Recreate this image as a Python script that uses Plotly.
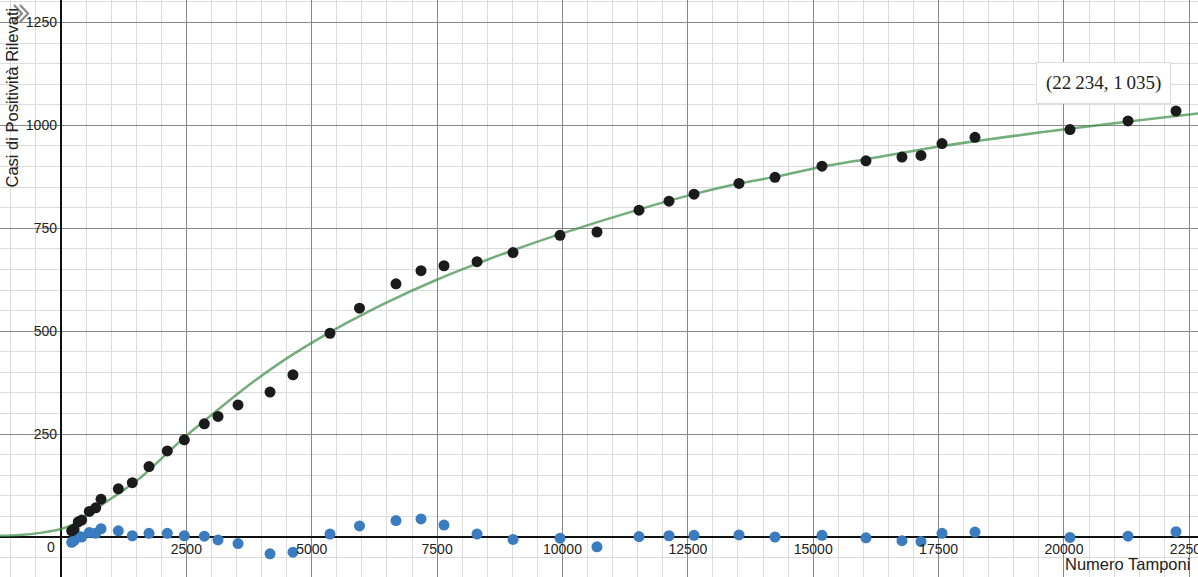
import plotly.graph_objects as go

# ---- data ----
tamponi = [213, 260, 345, 413, 564, 692, 798, 1143, 1422, 1755, 2120, 2459, 2858, 3131,
           3530, 4168, 4626, 5364, 5952, 6680, 7179, 7637, 8296, 9014, 9951, 10688,
           11526, 12124, 12623, 13520, 14238, 15175, 16052, 16770, 17149, 17568, 18226,
           20120, 21277, 22234]
casi = [15, 19, 37, 41, 62, 71, 92, 117, 132, 171, 209, 236, 275, 293, 321, 352, 394,
        495, 556, 615, 647, 659, 669, 691, 733, 741, 794, 816, 833, 859, 874, 901, 914,
        923, 927, 956, 971, 990, 1011, 1035]
residui = [-13, -9, 2, 0, 11, 9, 20, 15, 3, 9, 9, 3, 2, -7, -16, -41, -37, 7, 27, 40, 44,
           29, 7, -6, -3, -24, 1, 3, 4, 5, 0, 4, -2, -9, -11, 9, 12, -1, 2, 13]

# fitted curve
fit_x = [-1217, -818, -419, -20, 213, 379, 778, 1177, 1575, 2479, 3037, 3703, 4367, 5032,
         5697, 6427, 7492, 8421, 9020, 9951, 11532, 12617, 13520, 14244, 15190, 16047,
         17584, 20170, 22733]
fit_y = [3, 5, 10, 19, 29, 41, 75, 108, 143, 244, 300, 365, 423, 474, 520, 566, 625, 670,
         697, 736, 796, 833, 859, 875, 900, 918, 950, 993, 1030]

x_tickvals = [0, 2500, 5000, 7500, 10000, 12500, 15000, 17500, 20000, 22500]
x_ticktext = ["", "2500", "5000", "7500", "10000", "12500", "15000", "17500", "20000", "22500"]
y_tickvals = [0, 250, 500, 750, 1000, 1250]
y_ticktext = ["", "250", "500", "750", "1000", "1250"]

x_title = "Numero Tamponi"
y_title = "Casi di Positività Rilevati"
point_label = "(22\u2009234, 1\u2009035)"

# ---- view ----
X_MIN, X_MAX = -1216.4, 22673
Y_MIN, Y_MAX = -97.2, 1304.7
W, H = 1198, 577

fig = go.Figure()
fig.add_trace(go.Scatter(
    x=fit_x, y=fit_y, mode="lines",
    line=dict(color="#388c46", width=2.5, shape="spline", smoothing=1.0),
    opacity=0.7, hoverinfo="skip"))
fig.add_trace(go.Scatter(
    x=tamponi, y=residui, mode="markers",
    marker=dict(color="#3a7cbf", size=11, line=dict(width=0))))
fig.add_trace(go.Scatter(
    x=tamponi, y=casi, mode="markers",
    marker=dict(color="#1b1b1b", size=11, line=dict(width=0))))

tick_font = dict(family="Liberation Sans, Arial, sans-serif", size=14, color="#222222")
major = "#888888"
minor = "#dcdcdc"


def px_path(points):
    """SVG path in paper coordinates from pixel positions (UI decoration)."""
    parts = []
    for i, (px, py) in enumerate(points):
        parts.append(("M" if i == 0 else "L") + f"{px / W:.5f},{1 - py / H:.5f}")
    return " ".join(parts)


chevrons = [
    dict(type="path", xref="paper", yref="paper",
         path=px_path([(14, 5), (22, 13.5), (14, 22)]),
         line=dict(color="#8a8a8a", width=2.2), layer="above"),
    dict(type="path", xref="paper", yref="paper",
         path=px_path([(20, 5), (28, 13.5), (20, 22)]),
         line=dict(color="#8a8a8a", width=2.2), layer="above"),
]

fig.update_layout(
    width=W, height=H,
    margin=dict(l=0, r=0, t=0, b=0, pad=0, autoexpand=False),
    paper_bgcolor="white", plot_bgcolor="white",
    showlegend=False,
    xaxis=dict(
        range=[X_MIN, X_MAX], anchor="free", automargin=False,
        position=(0 - Y_MIN) / (Y_MAX - Y_MIN),
        tickmode="array", tickvals=x_tickvals, ticktext=x_ticktext,
        showgrid=True, gridcolor=major, gridwidth=1,
        minor=dict(tickmode="linear", tick0=0, dtick=500, showgrid=True,
                   gridcolor=minor, gridwidth=1),
        zeroline=True, zerolinecolor="#111111", zerolinewidth=1.6,
        showline=False, ticks="", tickfont=tick_font, ticklabelstandoff=2,
        ticklabeloverflow="allow",
    ),
    yaxis=dict(
        range=[Y_MIN, Y_MAX], anchor="free", automargin=False,
        position=(0 - X_MIN) / (X_MAX - X_MIN),
        tickmode="array", tickvals=y_tickvals, ticktext=y_ticktext,
        showgrid=True, gridcolor=major, gridwidth=1,
        minor=dict(tickmode="linear", tick0=0, dtick=50, showgrid=True,
                   gridcolor=minor, gridwidth=1),
        zeroline=True, zerolinecolor="#111111", zerolinewidth=1.6,
        showline=False, ticks="", tickfont=tick_font, ticklabelstandoff=4,
        ticklabeloverflow="allow",
    ),
    shapes=chevrons,
    annotations=[
        dict(text="0", xref="paper", yref="paper", x=51 / W, y=1 - 547 / H,
             showarrow=False, xanchor="center", yanchor="middle", font=tick_font),
        dict(text=x_title, xref="paper", yref="paper", x=1192 / W, y=1 - 564 / H,
             showarrow=False, xanchor="right", yanchor="middle",
             font=dict(family="Liberation Sans, Arial, sans-serif", size=16.5, color="#222222")),
        dict(text=y_title, xref="paper", yref="paper", x=11.5 / W, y=1 - 98 / H,
             showarrow=False, xanchor="center", yanchor="middle", textangle=-90,
             font=dict(family="Liberation Sans, Arial, sans-serif", size=16.5, color="#222222")),
        dict(text=point_label, xref="x", yref="y", x=tamponi[-1], y=casi[-1],
             xshift=-72, yshift=28, showarrow=False, xanchor="center", yanchor="middle",
             bgcolor="white", bordercolor="#dcdcdc", borderwidth=1, borderpad=9,
             font=dict(family="Liberation Serif, DejaVu Serif, serif", size=19, color="#222222")),
    ],
)

fig.write_html("out.html", config={"displayModeBar": False},
               post_script="document.body.style.margin='0px';document.body.style.overflow='hidden';")
